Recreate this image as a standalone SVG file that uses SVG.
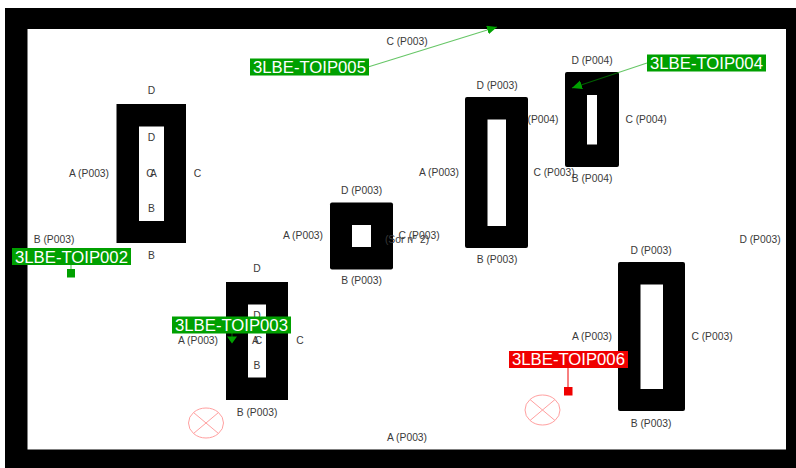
<svg xmlns="http://www.w3.org/2000/svg" width="796" height="468" viewBox="0 0 796 468">
<style>
text{font-family:"Liberation Sans",Arial,sans-serif}
.l{font-size:10.3px;fill:#3a3a3a;text-anchor:middle}
.t{font-size:16.700px;fill:#fff;text-anchor:middle}
.g{fill:#00a000}
.r{fill:#f00000}
.o{fill:none;stroke:#ffa0a0;stroke-width:1}
.c{fill:none;stroke:#00a000;stroke-opacity:.6;stroke-width:1.200}
</style>
<defs>
<marker id="ag" markerWidth="12" markerHeight="12" refX="10" refY="4.500" orient="auto" markerUnits="userSpaceOnUse"><path d="M0 0L10 4.500L0 9z" fill="#00a000"/></marker>
</defs>
<rect width="796" height="468" fill="#fff"/>
<path id="frame" fill="#000" fill-rule="evenodd" d="M5 8H796V468H5zM27.500 29V449.500H786V29z"/>
<g id="n1"><path fill-rule="evenodd" d="M116.500 104H186V243H116.500zM139 126.500V221H164V126.500z"/><text class="l" x="151.500" y="94">D</text><text class="l" x="151.500" y="141">D</text><text class="l" x="150" y="177">C</text><text class="l" x="153.500" y="177">A</text><text class="l" x="151.500" y="212">B</text><text class="l" x="89" y="177">A (P003)</text><text class="l" x="197.500" y="177">C</text><text class="l" x="151.500" y="259">B</text></g>
<g id="n2"><path fill-rule="evenodd" d="M226 282H288V400H226zM248 304.500V377.500H266V304.500z"/><text class="l" x="257" y="272">D</text><text class="l" x="257" y="319">D</text><text class="l" x="255.500" y="344">A</text><text class="l" x="258.500" y="344">C</text><text class="l" x="257" y="369">B</text><text class="l" x="198" y="344">A (P003)</text><text class="l" x="300" y="344">C</text><text class="l" x="257" y="416">B (P003)</text></g>
<g id="n3"><rect x="330" y="202.500" width="63" height="67" rx="2"/><rect x="352" y="225" width="19" height="22" fill="#fff"/><text class="l" x="361.500" y="194">D (P003)</text><text class="l" x="303" y="239">A (P003)</text><text class="l" x="419" y="239">C (P003)</text><text class="l" x="407" y="243">(Sor n° 2)</text><text class="l" x="361.500" y="284">B (P003)</text></g>
<g id="n4"><path fill-rule="evenodd" d="M467 97H526Q528 97 528 99V246Q528 248 526 248H467Q465 248 465 246V99Q465 97 467 97zM487.500 119.500V226H506V119.500z"/><text class="l" x="497" y="88.500">D (P003)</text><text class="l" x="439" y="176">A (P003)</text><text class="l" x="554" y="176">C (P003)</text><text class="l" x="497" y="263">B (P003)</text></g>
<g id="n5"><path fill-rule="evenodd" d="M567 72H617Q619 72 619 74V165Q619 167 617 167H567Q565 167 565 165V74Q565 72 567 72zM587 95V144.500H597V95z"/><text class="l" x="592" y="64">D (P004)</text><text class="l" x="543" y="123">(P004)</text><text class="l" x="646" y="123">C (P004)</text><text class="l" x="592" y="182">B (P004)</text></g>
<g id="n6"><path fill-rule="evenodd" d="M620 262H683Q685 262 685 264V409Q685 411 683 411H620Q618 411 618 409V264Q618 262 620 262zM640.500 284.500V389H663V284.500z"/><text class="l" x="592" y="340">A (P003)</text><text class="l" x="712" y="340">C (P003)</text><text class="l" x="651" y="427">B (P003)</text><text class="l" x="651" y="254">D (P003)</text></g>
<g id="free-labels"><text class="l" x="407" y="45">C (P003)</text><text class="l" x="54" y="243">B (P003)</text><text class="l" x="760" y="243">D (P003)</text><text class="l" x="407" y="441">A (P003)</text></g>
<g id="symbols"><g transform="translate(206 423)"><ellipse class="o" rx="17.500" ry="15"/><path class="o" d="M-12.500 -10.500L12.500 10.500M12.500 -10.500L-12.500 10.500"/></g><g transform="translate(542.500 410)"><ellipse class="o" rx="17.500" ry="15"/><path class="o" d="M-12.500 -10.500L12.500 10.500M12.500 -10.500L-12.500 10.500"/></g></g>
<g id="connectors">
<path class="c" d="M368 67L497 27" marker-end="url(#ag)"/>
<path class="c" d="M647 63L572 88" marker-end="url(#ag)"/>
<path class="c" d="M71 265V270"/>
<path class="c" d="M232 333V338"/>
<path d="M568 368V390" stroke="#f00000" stroke-width="1" fill="none"/>
</g>
<g id="tag2"><rect class="g" x="67" y="269" width="8" height="8.500"/><rect class="g" x="12" y="248" width="119" height="17"/><text class="t" x="71.500" y="262.500">3LBE-TOIP002</text></g>
<g id="tag3"><path class="g" d="M227 336.500H237L232 343.500z"/><rect class="g" x="172" y="316.500" width="119" height="17"/><text class="t" x="231.500" y="330.500">3LBE-TOIP003</text></g>
<g id="tag5"><rect class="g" x="250" y="58.500" width="119" height="17"/><text class="t" x="309.500" y="72.500">3LBE-TOIP005</text></g>
<g id="tag4"><rect class="g" x="647" y="54.500" width="119" height="17"/><text class="t" x="706.500" y="68.500">3LBE-TOIP004</text></g>
<g id="tag6"><rect class="r" x="564" y="387" width="8.500" height="8.500"/><rect class="r" x="509" y="351" width="119" height="17"/><text class="t" x="568.500" y="365">3LBE-TOIP006</text></g>
</svg>
